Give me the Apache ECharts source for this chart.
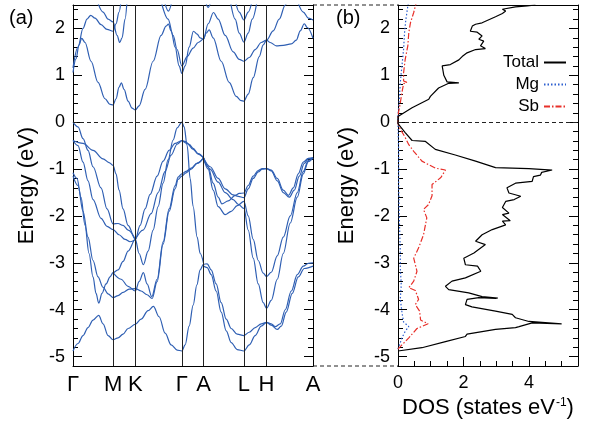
<html>
<head>
    <meta http-equiv='Content-Type' content='text/html; charset=utf-8'/>
    <title>Band structure and DOS</title>
    <style>
        body { margin: 0; padding: 0; background: #fff; }
        #main { width: 592px; height: 430px; }
    </style>
    <script src="https://cdn.jsdelivr.net/npm/echarts@6/dist/echarts.min.js"></script>
</head>
<body>
<div id="main"></div>
<script type="text/javascript">
    // k-path positions of the high symmetry points and their labels
    const kTicks = [0, 40, 62.3, 108.7, 130.3, 170.7, 193.3, 239.7];
    const kLabels = ['Γ', 'M', 'K', 'Γ', 'A', 'L', 'H', 'A'];
    const eMajor = [-5, -4, -3, -2, -1, 0, 1, 2];

    // conduction bands, [k, E (eV)]
    const cb1 = [[0,1.06],[3,1.35],[6,1.65],[8.7,1.79],[12,1.7],[18,1.3],[25,0.85],[32,0.5],[37,0.38],[40,0.37],[43,0.5],[46,0.75],[48.3,0.84],[51,0.7],[55,0.45],[59,0.3],[62.3,0.26],[66,0.35],[72,0.7],[80,1.3],[88,1.85],[93,2.05],[95.3,2.09],[98,1.95],[102,1.6],[106,1.2],[108.7,1.04],[112,1.2],[116,1.6],[120.3,1.94],[124,1.88],[127,1.8],[130.3,1.77],[133,1.9],[136,1.97],[140,1.8],[148,1.3],[156,0.85],[163,0.55],[168,0.46],[170.7,0.45],[175,0.6],[180,0.95],[186,1.4],[190,1.65],[193.3,1.75],[197,1.7],[203,1.63],[210,1.64],[218,1.67],[223,1.75],[227,1.95],[231,2.1],[234,2.02],[239.7,1.79]];
    const cb2 = [[0,1.16],[5,1.6],[10,2.0],[14,2.2],[17.7,2.28],[22,2.22],[28,2.08],[34,1.98],[40,1.94],[43,2.1],[46,2.35],[48,2.6]];
    const cb3 = [[24,2.6],[30,2.35],[35,2.2],[40,2.14],[44,1.85],[46.7,1.7],[49,1.8],[52,2.2],[54,2.6]];
    const cb4 = [[88.7,2.52],[95,2.2],[100,1.85],[104,1.55],[108.7,1.2],[114,1.4],[120,1.58],[125,1.7],[130.3,1.77],[135,2.1],[140.3,2.34],[145,2.2],[152,1.85],[160,1.5],[166,1.34],[170.7,1.3],[176,1.38],[182,1.55],[188,1.7],[193.3,1.75],[200,1.95],[206,2.2],[212,2.5],[214,2.6]];
    const cb5 = [[91,2.6],[95.3,2.37],[99,2.6]];
    const cb6 = [[157,2.6],[162,2.2],[166,1.9],[170.7,1.71],[175,1.9],[179,2.2],[184,2.6]];
    const cb7 = [[162,2.6],[166,2.35],[170.7,2.18],[175,2.35],[179,2.6]];
    const cb8 = [[132,2.6],[135,2.45],[138,2.6]];
    const cb9 = [[224,2.6],[230,2.35],[235,2.22],[239.7,2.18]];

    // valence bands, [k, E (eV)]
    const vb1 = [[0,0],[5,-0.1],[10,-0.35],[15,-0.6],[20,-0.95],[28,-1.4],[34,-1.85],[40,-2.17],[45,-2.16],[50,-2.2],[55,-2.3],[62.3,-2.5]];
    const vb2 = [[0,-0.39],[5,-0.5],[10,-0.85],[15,-1.25],[20,-1.65],[28,-2.05],[34,-2.22],[40,-2.29],[46,-2.4],[52,-2.5],[57,-2.55],[62.3,-2.5]];
    const vb3 = [[0,-0.39],[10,-0.45],[20,-0.6],[30,-0.78],[36,-0.86],[40,-0.92],[43,-1.1],[46,-1.45],[50,-1.85],[55,-2.2],[62.3,-2.5],[66,-2.8],[70.3,-3.04],[75,-2.75],[80,-2.3],[85,-1.8],[90,-1.3],[95,-0.8],[100,-0.38],[104,-0.12],[108.7,0],[111,-0.1],[114,-0.5],[117,-1.2],[120,-1.8],[124,-2.45],[127,-2.8],[130.3,-3.0]];
    const vb4 = [[0,-1.08],[4,-1.2],[8,-1.6],[12,-2.2],[16,-2.8],[20,-3.3],[23,-3.65],[25.7,-3.86],[29,-3.65],[33,-3.45],[37,-3.3],[40,-3.21],[45,-3.15],[50,-2.97],[55,-2.75],[62.3,-2.5],[67,-2.2],[72,-1.85],[77,-1.54],[84,-1.15],[90,-0.83],[96,-0.6],[102,-0.45],[108.7,-0.39],[112,-0.41],[116,-0.47],[120,-0.56],[125,-0.67],[130.3,-0.76]];
    const vb5 = [[0,-1.15],[5,-1.35],[10,-1.9],[15,-2.45],[20,-2.95],[25,-3.3],[30,-3.52],[35,-3.66],[40,-3.74],[45,-3.7],[50,-3.63],[56,-3.56],[62.3,-3.55],[68,-3.6],[74,-3.68],[79,-3.76],[84,-3.4],[90,-2.6],[96,-1.9],[102,-1.42],[105,-1.22],[108.7,-1.15],[113,-1.08],[118,-1.0],[124,-0.88],[130.3,-0.76]];
    const vb6 = [[62.3,-2.5],[70,-2.3],[78,-1.95],[85,-1.5],[92,-1.05],[98,-0.7],[104,-0.47],[108.7,-0.4],[114,-0.45],[120,-0.58],[125,-0.68],[130.3,-0.76]];
    const vb7 = [[40,-3.21],[48,-3.35],[55,-3.5],[62.3,-3.6],[66,-3.4],[70.3,-3.21],[74,-3.45],[78.7,-3.72],[84,-3.35],[90,-2.55],[96,-1.85],[102,-1.35],[105,-1.17],[108.7,-1.1],[113,-1.05],[118,-0.98],[124,-0.87],[130.3,-0.76]];
    const vb8 = [[0,-4.88],[5,-4.72],[10,-4.55],[15,-4.38],[20,-4.22],[25.7,-4.12],[30,-4.3],[35,-4.55],[40,-4.64],[45,-4.6],[50,-4.52],[55,-4.4],[62.3,-4.31],[68,-4.2],[75,-4.02],[80.3,-3.93],[86,-4.15],[92,-4.5],[98,-4.75],[104,-4.86],[108.7,-4.88],[112,-4.75],[116,-4.35],[120,-3.9],[123.7,-3.47],[127,-3.15],[130.3,-3.03],[134,-3.02],[138,-3.15],[143,-3.45],[148,-3.85],[153,-4.2],[158,-4.4],[164,-4.52],[170.7,-4.55],[176,-4.48],[182,-4.38],[188,-4.3],[193.3,-4.27],[198,-4.3],[202,-4.36],[207,-4.3],[212,-4.0],[218,-3.6],[224,-3.25],[230,-3.07],[235,-3.01],[239.7,-3.0]];
    const vb9 = [[130.3,-3.07],[134,-3.1],[138,-3.25],[143,-3.6],[148,-4.05],[153,-4.45],[158,-4.7],[164,-4.85],[170.7,-4.88],[176,-4.75],[182,-4.55],[188,-4.35],[193.3,-4.27],[198,-4.33],[204,-4.42],[208,-4.35],[213,-4.05],[219,-3.65],[225,-3.3],[231,-3.12],[239.7,-3.07]];
    const vb10 = [[130.3,-0.76],[135,-0.95],[140,-1.3],[145,-1.6],[148.7,-1.74],[155,-1.68],[162,-1.56],[166,-1.52],[170.7,-1.51],[175,-1.35],[180,-1.15],[185,-1.03],[189,-0.99],[193.3,-0.99],[198,-1.02],[204,-1.2],[210,-1.45],[215.3,-1.56],[220,-1.4],[225,-1.1],[230,-0.85],[235,-0.77],[239.7,-0.76]];
    const vb11 = [[130.3,-0.76],[137,-0.95],[145,-1.2],[152,-1.42],[160,-1.55],[165,-1.58],[170.7,-1.61],[175,-1.42],[180,-1.2],[185,-1.06],[189,-1.0],[193.3,-0.99],[198,-1.04],[204,-1.25],[210,-1.5],[216,-1.6],[221,-1.45],[226,-1.15],[231,-0.88],[235,-0.78],[239.7,-0.76]];
    const vb12 = [[130.3,-0.76],[135,-1.0],[140,-1.45],[145,-1.8],[152,-1.97],[158,-1.9],[164,-1.78],[170.7,-1.69],[175,-2.0],[180,-2.5],[185,-2.95],[190,-3.22],[193.3,-3.29],[198,-3.2],[204,-2.85],[210,-2.45],[217,-2.0],[224,-1.5],[230,-1.05],[235,-0.82],[239.7,-0.76]];
    const vb13 = [[130.3,-0.76],[137,-1.0],[145,-1.28],[152,-1.5],[160,-1.65],[165,-1.75],[170.7,-1.84],[175,-2.3],[180,-2.9],[185,-3.45],[190,-3.85],[193.3,-3.97],[198,-3.8],[204,-3.35],[210,-2.8],[217,-2.15],[224,-1.6],[230,-1.1],[235,-0.84],[239.7,-0.76]];

    // density of states, [DOS (states/eV), E (eV)]
    const dosTotal = [[0,-4.88],[0.73,-4.81],[1.45,-4.68],[2.06,-4.57],[2.11,-4.52],[2.98,-4.42],[3.59,-4.38],[3.7,-4.36],[3.65,-4.34],[4.1,-4.28],[5.0,-4.3],[4.0,-4.25],[3.59,-4.17],[3.49,-4.1],[2.98,-4.03],[2.26,-3.94],[2.06,-3.89],[2.11,-3.78],[2.47,-3.74],[2.98,-3.76],[3.05,-3.75],[2.57,-3.72],[2.16,-3.64],[1.55,-3.57],[1.45,-3.5],[1.65,-3.39],[2.06,-3.32],[2.53,-3.18],[2.43,-3.07],[2.06,-3.04],[2.01,-2.9],[2.32,-2.79],[2.67,-2.61],[2.37,-2.54],[2.57,-2.4],[2.88,-2.29],[3.29,-2.19],[3.19,-2.11],[3.43,-2.1],[3.19,-1.97],[3.39,-1.94],[3.19,-1.82],[3.29,-1.69],[3.55,-1.65],[3.75,-1.58],[3.39,-1.51],[3.33,-1.4],[3.59,-1.3],[4.1,-1.26],[4.14,-1.16],[4.35,-1.13],[4.39,-1.07],[4.71,-1.02],[4.0,-0.99],[2.98,-0.97],[2.37,-0.83],[1.75,-0.7],[1.14,-0.58],[0.84,-0.41],[0.43,-0.39],[0.22,-0.22],[0,-0.03],[0,0.12],[0.43,0.31],[0.94,0.49],[0.99,0.55],[1.24,0.73],[1.55,0.83],[1.86,0.84],[1.5,0.86],[1.4,1.0],[1.35,1.2],[1.6,1.23],[1.86,1.33],[1.96,1.4],[2.11,1.48],[2.37,1.55],[2.67,1.57],[2.52,1.63],[2.62,1.73],[2.47,1.77],[2.57,1.84],[2.42,1.92],[2.21,1.94],[2.27,2.05],[2.37,2.09],[2.57,2.12],[2.98,2.25],[3.19,2.32],[3.29,2.37],[3.19,2.41],[3.59,2.46],[3.95,2.48],[4.2,2.5]];
    const dosMg = [[0,-4.84],[0.12,-4.6],[0.22,-4.46],[0.33,-4.36],[0.17,-4.26],[0.12,-4.05],[0.07,-3.76],[0.1,-3.47],[0.07,-3.11],[0.07,-2.75],[0.04,-2.04],[0.02,-1.33],[0.02,-0.62],[0,-0.03],[0,0.15],[0.04,0.49],[0.07,0.84],[0.12,1.2],[0.17,1.55],[0.2,1.91],[0.24,2.19],[0.3,2.48],[0.32,2.55]];
    const dosSb = [[0,-4.84],[0.12,-4.75],[0.33,-4.6],[0.58,-4.4],[0.92,-4.3],[0.69,-4.22],[0.66,-4.03],[0.53,-3.89],[0.63,-3.78],[0.53,-3.59],[0.33,-3.53],[0.48,-3.39],[0.58,-3.18],[0.53,-3.04],[0.48,-2.9],[0.63,-2.68],[0.78,-2.4],[0.88,-2.04],[0.78,-1.86],[0.93,-1.76],[1.04,-1.57],[1.04,-1.33],[1.31,-1.18],[1.45,-1.02],[1.14,-0.98],[0.73,-0.83],[0.48,-0.62],[0.33,-0.48],[0.2,-0.3],[0.07,-0.15],[0,-0.03],[0,0.15],[0.07,0.41],[0.12,0.63],[0.17,0.82],[0.27,0.85],[0.17,0.88],[0.17,1.05],[0.22,1.34],[0.3,1.63],[0.33,1.91],[0.38,2.12],[0.48,2.34],[0.53,2.48],[0.56,2.55]];
    const dosMajor = [0, 2, 4];

    const bands = [cb1, cb2, cb3, cb4, cb5, cb6, cb7, cb8, cb9,
        vb1, vb2, vb3, vb4, vb5, vb6, vb7, vb8, vb9, vb10, vb11, vb12, vb13];

    const font = 'Liberation Sans, Arial, Helvetica, sans-serif';
    const bandColor = '#2f5fb3';
    const E_MIN = -5.2, E_MAX = 2.5, DOS_MAX = 5.5;

    // tick positions for the short (minor) ticks
    let eMinor = [];
    for (let i = -26; i <= 12; i++) eMinor.push(Math.round(i * 2) / 10);
    let dosMinor = [];
    for (let i = 0; i <= 11; i++) dosMinor.push(i / 2);

    const black = {color: '#000', width: 1};
    const frameLine = {show: true, onZero: false, lineStyle: black};
    const noLine = {show: false, onZero: false};
    const labelStyle = {color: '#000', fontFamily: font};

    // one y axis per side in each grid; long ticks live in a twin grid
    function energyAxes(grid, twin, nameGap) {
        let base = {type: 'value', min: E_MIN, max: E_MAX, splitLine: {show: false}};
        return [
            Object.assign({}, base, {
                gridIndex: grid, position: 'left', axisLine: frameLine,
                axisTick: {show: true, inside: true, length: 5, customValues: eMinor, lineStyle: black},
                axisLabel: Object.assign({show: true, customValues: eMajor, fontSize: 18, margin: 8}, labelStyle),
                name: 'Energy (eV)', nameLocation: 'middle', nameRotate: 90, nameGap: nameGap,
                nameTextStyle: Object.assign({fontSize: 22}, labelStyle)
            }),
            Object.assign({}, base, {
                gridIndex: grid, position: 'right', axisLine: frameLine,
                axisTick: {show: true, inside: true, length: 5, customValues: eMinor, lineStyle: black},
                axisLabel: {show: false}
            }),
            Object.assign({}, base, {
                gridIndex: twin, position: 'left', axisLine: noLine, axisLabel: {show: false},
                axisTick: {show: true, inside: true, length: 9, customValues: eMajor, lineStyle: black}
            }),
            Object.assign({}, base, {
                gridIndex: twin, position: 'right', axisLine: noLine, axisLabel: {show: false},
                axisTick: {show: true, inside: true, length: 9, customValues: eMajor, lineStyle: black}
            })
        ];
    }

    let myChart = echarts.init(document.getElementById('main'));

    let series = bands.map(function (b, i) {
        let s = {
            type: 'line', xAxisIndex: 0, yAxisIndex: 0, data: b,
            symbol: 'none', smooth: 0.35, smoothMonotone: 'x', silent: true,
            lineStyle: {color: bandColor, width: 1.2}, z: 3
        };
        if (i === 0) {
            s.markLine = {
                silent: true, symbol: 'none', label: {show: false},
                lineStyle: {color: '#222', width: 1, type: 'solid'},
                data: kTicks.slice(1, -1).map(function (k) { return {xAxis: k}; })
            };
        }
        if (i === 1) {
            s.markLine = {
                silent: true, symbol: 'none', label: {show: false},
                lineStyle: {color: '#222', width: 1, type: [4, 3]},
                data: [{yAxis: 0}]
            };
        }
        return s;
    });

    series.push({
        name: 'Total', type: 'line', xAxisIndex: 3, yAxisIndex: 4, data: dosTotal,
        symbol: 'none', silent: true, z: 4,
        lineStyle: {color: '#000', width: 1.2},
        markLine: {
            silent: true, symbol: 'none', label: {show: false},
            lineStyle: {color: '#222', width: 1, type: [4, 3]},
            data: [{yAxis: 0}]
        }
    });
    series.push({
        name: 'Mg', type: 'line', xAxisIndex: 3, yAxisIndex: 4, data: dosMg,
        symbol: 'none', silent: true, z: 3,
        lineStyle: {color: '#2d5fd0', width: 1.2, type: [1.5, 2]}
    });
    series.push({
        name: 'Sb', type: 'line', xAxisIndex: 3, yAxisIndex: 4, data: dosSb,
        symbol: 'none', silent: true, z: 3,
        lineStyle: {color: '#e8302a', width: 1.2, type: [6, 2, 1.5, 2]}
    });

    let option = {
        animation: false,
        backgroundColor: '#fff',
        textStyle: {fontFamily: font},
        title: [
            {text: '(a)', left: 4, top: 3, textStyle: {fontSize: 20, fontWeight: 'normal', color: '#000', fontFamily: font}},
            {text: '(b)', left: 331, top: 3, textStyle: {fontSize: 20, fontWeight: 'normal', color: '#000', fontFamily: font}}
        ],
        legend: {
            data: ['Total', 'Mg', 'Sb'],
            orient: 'vertical', right: 20, top: 49, align: 'right',
            itemWidth: 22, itemHeight: 14, itemGap: 5,
            itemStyle: {opacity: 0},
            textStyle: {fontSize: 17, color: '#000', fontFamily: font}
        },
        grid: [
            {left: 73, top: 5, width: 240, height: 361},
            {left: 73, top: 5, width: 240, height: 361},
            {left: 398, top: 5, width: 180, height: 361},
            {left: 398, top: 5, width: 180, height: 361}
        ],
        xAxis: [
            {
                gridIndex: 0, type: 'value', min: 0, max: kTicks[kTicks.length - 1], position: 'bottom',
                axisLine: frameLine, axisTick: {show: false}, splitLine: {show: false},
                axisLabel: Object.assign({
                    show: true, customValues: kTicks, fontSize: 22, margin: 8,
                    formatter: function (v) {
                        for (let i = 0; i < kTicks.length; i++) {
                            if (Math.abs(kTicks[i] - v) < 0.01) return kLabels[i];
                        }
                        return '';
                    }
                }, labelStyle)
            },
            {
                gridIndex: 0, type: 'value', min: 0, max: kTicks[kTicks.length - 1], position: 'top',
                axisLine: frameLine, axisTick: {show: false}, axisLabel: {show: false}, splitLine: {show: false}
            },
            {
                gridIndex: 1, type: 'value', min: 0, max: 1, position: 'bottom',
                axisLine: noLine, axisTick: {show: false}, axisLabel: {show: false}, splitLine: {show: false}
            },
            {
                gridIndex: 2, type: 'value', min: 0, max: DOS_MAX, position: 'bottom',
                axisLine: frameLine, splitLine: {show: false},
                axisTick: {show: true, inside: true, length: 5, customValues: dosMinor, lineStyle: black},
                axisLabel: Object.assign({show: true, customValues: dosMajor, fontSize: 18, margin: 8}, labelStyle),
                name: 'DOS (states eV{sup|-1})', nameLocation: 'middle', nameGap: 31,
                nameTextStyle: Object.assign({
                    fontSize: 22,
                    rich: {sup: {fontSize: 12, color: '#000', fontFamily: font, verticalAlign: 'top', padding: [0, 0, 9, 1]}}
                }, labelStyle)
            },
            {
                gridIndex: 2, type: 'value', min: 0, max: DOS_MAX, position: 'top',
                axisLine: frameLine, axisTick: {show: false}, axisLabel: {show: false}, splitLine: {show: false}
            },
            {
                gridIndex: 3, type: 'value', min: 0, max: DOS_MAX, position: 'bottom',
                axisLine: noLine, axisLabel: {show: false}, splitLine: {show: false},
                axisTick: {show: true, inside: true, length: 9, customValues: dosMajor, lineStyle: black}
            }
        ],
        yAxis: energyAxes(0, 1, 35).concat(energyAxes(2, 3, 40)),
        graphic: [
            {type: 'line', silent: true, shape: {x1: 313, y1: 5, x2: 398, y2: 5}, style: {stroke: '#222', lineWidth: 1, lineDash: [4, 3]}},
            {type: 'line', silent: true, shape: {x1: 313, y1: 366, x2: 398, y2: 366}, style: {stroke: '#222', lineWidth: 1, lineDash: [4, 3]}}
        ],
        series: series
    };

    myChart.setOption(option);
</script>
</body>
</html>
